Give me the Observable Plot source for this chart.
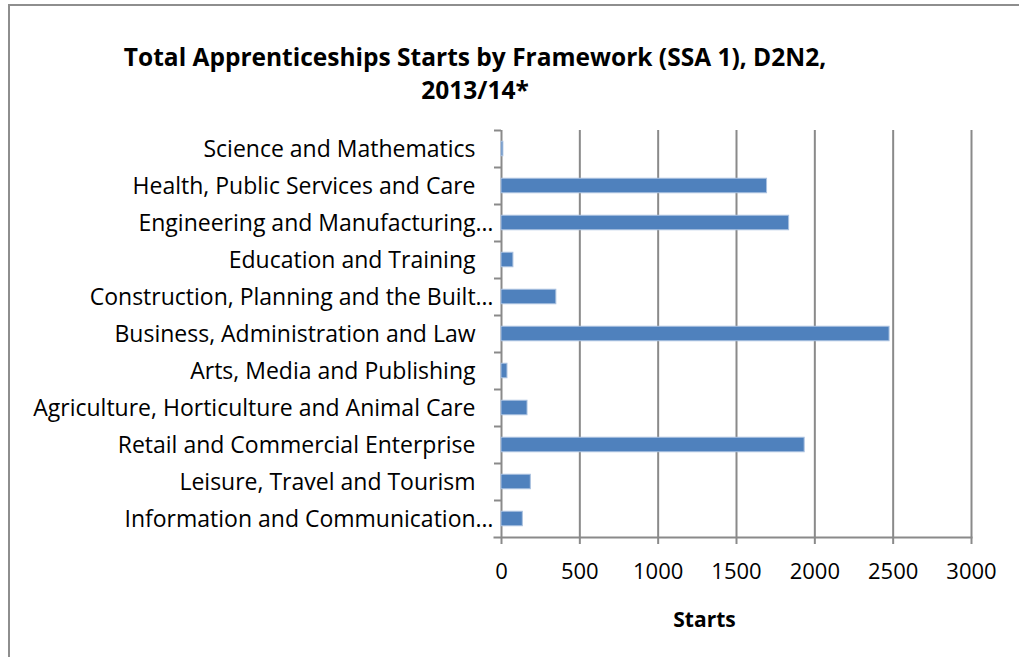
<!DOCTYPE html>
<html>
<head>
<meta charset="utf-8">
<script src="https://cdn.jsdelivr.net/npm/d3@7"></script>
<script src="https://cdn.jsdelivr.net/npm/@observablehq/plot@0.6"></script>
<style>
  html, body { margin: 0; padding: 0; background: #fff; }
  #wrap { position: relative; width: 1019px; height: 657px; overflow: hidden; font-family: "Open Sans", sans-serif; background: #fff; }
  #border { position: absolute; left: 8px; top: 4px; width: 1200px; height: 900px; border: 2px solid #8e8e8e; box-sizing: border-box; z-index: 5; pointer-events: none; }
  #title { position: relative; height: 112px; width: 950px; text-align: center; font-weight: bold; font-size: 24.5px; line-height: 33px; box-sizing: border-box; color: #000; }
  #title div:first-child { padding-top: 40px; }
  #chart { position: relative; }
  #chart svg { display: block; background: transparent; }
</style>
</head>
<body>
<div id="wrap">
  <div id="title"><div>Total Apprenticeships Starts by Framework (SSA 1), D2N2,</div><div>2013/14*</div></div>
  <div id="chart"></div>
  <div id="border"></div>
</div>
<script>
const categories = [
  "Science and Mathematics",
  "Health, Public Services and Care",
  "Engineering and Manufacturing…",
  "Education and Training",
  "Construction, Planning and the Built…",
  "Business, Administration and Law",
  "Arts, Media and Publishing",
  "Agriculture, Horticulture and Animal Care",
  "Retail and Commercial Enterprise",
  "Leisure, Travel and Tourism",
  "Information and Communication…"
];
const starts = [12, 1695, 1836, 76, 350, 2477, 38, 166, 1935, 187, 136];
const xTicks = [0, 500, 1000, 1500, 2000, 2500, 3000];
const xLabel = "Starts";

const data = categories.map((c, i) => ({category: c, starts: starts[i]}));
const truncated = categories.filter(c => c.endsWith("…"));
const full = categories.filter(c => !c.endsWith("…"));

const W = 1019, H = 545, mt = 18, mb = 120, ml = 501, mr = 48;
const step = (H - mt - mb) / categories.length;
const barH = 14.5;
const inset = (step - barH) / 2;
const gray = "#8a8a8a";
const fsY = 23, fsX = 22, fsL = 21;

const chart = Plot.plot({
  width: W,
  height: H,
  marginTop: mt,
  marginBottom: mb,
  marginLeft: ml,
  marginRight: mr,
  style: {fontFamily: "'Open Sans', sans-serif", fontSize: fsY + "px", color: "#000", background: "transparent"},
  x: {domain: [0, 3000], ticks: xTicks, label: null},
  y: {domain: categories, padding: 0, label: null},
  marks: [
    Plot.gridX(xTicks, {stroke: gray, strokeOpacity: 1, strokeWidth: 2}),
    Plot.barX(data, {x: "starts", y: "category", fill: "#4F81BD", stroke: "#a9c0df", strokeWidth: 1, insetTop: inset, insetBottom: inset}),
    Plot.frame({anchor: "bottom", stroke: gray, strokeWidth: 2, insetLeft: -7}),
    Plot.axisX(xTicks, {tickSize: 7, tickPadding: 19, stroke: gray, strokeWidth: 2, fontSize: fsX, tickFormat: d => String(d), fill: "#000"}),
    Plot.axisY(categories, {tickSize: 7, dy: -step / 2, stroke: gray, strokeWidth: 2, text: null, tickFormat: () => ""}),
    Plot.axisY(full, {tickSize: 0, tickPadding: 26, fontSize: fsY, fill: "#000", dy: 1}),
    Plot.axisY(truncated, {tickSize: 0, tickPadding: 8, fontSize: fsY, fill: "#000", dy: 1}),
    Plot.text([xLabel], {frameAnchor: "bottom", dy: 83, dx: -32, lineAnchor: "middle", fontWeight: "bold", fontSize: fsL, fill: "#000"})
  ]
});
document.getElementById("chart").appendChild(chart);
</script>
</body>
</html>
